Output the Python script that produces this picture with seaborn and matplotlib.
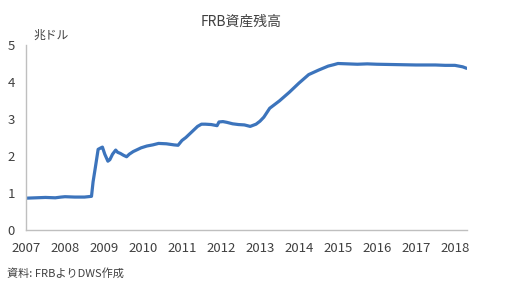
import matplotlib
matplotlib.use("Agg")
import matplotlib.pyplot as plt
import seaborn as sns
import pandas as pd

title = "FRB資産残高"
unit_label = "兆ドル"
source_note = "資料: FRBよりDWS作成"

years = [2007.0, 2007.25, 2007.5, 2007.75, 2007.9, 2008.0, 2008.25, 2008.5, 2008.68,
         2008.72, 2008.78, 2008.85, 2008.92, 2008.96, 2009.02, 2009.1, 2009.15, 2009.22,
         2009.3, 2009.35, 2009.42, 2009.5, 2009.58, 2009.65, 2009.75, 2009.85, 2009.95,
         2010.1, 2010.25, 2010.4, 2010.6, 2010.8, 2010.9, 2011.0, 2011.1, 2011.25, 2011.4,
         2011.5, 2011.6, 2011.75, 2011.9, 2011.95, 2012.05, 2012.15, 2012.3, 2012.45,
         2012.6, 2012.75, 2012.9, 2013.0, 2013.1, 2013.25, 2013.5, 2013.75, 2014.0,
         2014.25, 2014.5, 2014.75, 2014.9, 2015.0, 2015.25, 2015.5, 2015.75, 2016.0,
         2016.5, 2017.0, 2017.5, 2017.75, 2018.0, 2018.1, 2018.2, 2018.3]
assets = [0.86, 0.87, 0.88, 0.87, 0.89, 0.90, 0.89, 0.89, 0.91,
          1.30, 1.70, 2.18, 2.22, 2.24, 2.05, 1.86, 1.90, 2.05,
          2.16, 2.10, 2.07, 2.02, 1.98, 2.05, 2.12, 2.17, 2.22,
          2.27, 2.30, 2.34, 2.33, 2.30, 2.29, 2.42, 2.50, 2.65, 2.80,
          2.86, 2.86, 2.85, 2.82, 2.92, 2.93, 2.91, 2.87, 2.85,
          2.84, 2.80, 2.86, 2.94, 3.05, 3.29, 3.49, 3.72, 3.97,
          4.20, 4.32, 4.43, 4.47, 4.50, 4.49, 4.48, 4.49, 4.48,
          4.47, 4.46, 4.46, 4.45, 4.45, 4.43, 4.41, 4.37]

xticks = list(range(2007, 2019))
yticks = [0, 1, 2, 3, 4, 5]

df = pd.DataFrame({"year": years, "assets": assets})

sns.set_style("white")
plt.rcParams["font.family"] = ["Noto Sans CJK JP", "DejaVu Sans"]

fig = plt.figure(figsize=(5.24, 2.91), dpi=100)
ax = fig.add_axes([26 / 524, 1 - 230 / 291, (467 - 26) / 524, 185 / 291])

sns.lineplot(data=df, x="year", y="assets", ax=ax, color="#3C74BC", linewidth=2.3)

ax.set_xlim(2007, 2018.31)
ax.set_ylim(0, 5)
ax.set_xticks(xticks)
ax.set_xticklabels([str(x) for x in xticks])
ax.set_yticks(yticks)
ax.set_xlabel("")
ax.set_ylabel("")

for s in ["top", "right"]:
    ax.spines[s].set_visible(False)
for s in ["left", "bottom"]:
    ax.spines[s].set_color("#BFBFBF")
    ax.spines[s].set_linewidth(1.0)

ax.tick_params(axis="both", which="major", direction="out", length=4, width=1.0,
               color="#BFBFBF", labelcolor="#404040", labelsize=9.5, pad=4)
ax.tick_params(axis="x", pad=5)

fig.text(241 / 524, 1 - 22 / 291, title, ha="center", va="center",
         fontsize=10, color="#404040")
fig.text(33 / 524, 1 - 35 / 291, unit_label, ha="left", va="center",
         fontsize=8.5, color="#404040")
fig.text(7 / 524, 1 - 273 / 291, source_note, ha="left", va="center",
         fontsize=8, color="#404040")

fig.savefig("out.png", dpi=100)
